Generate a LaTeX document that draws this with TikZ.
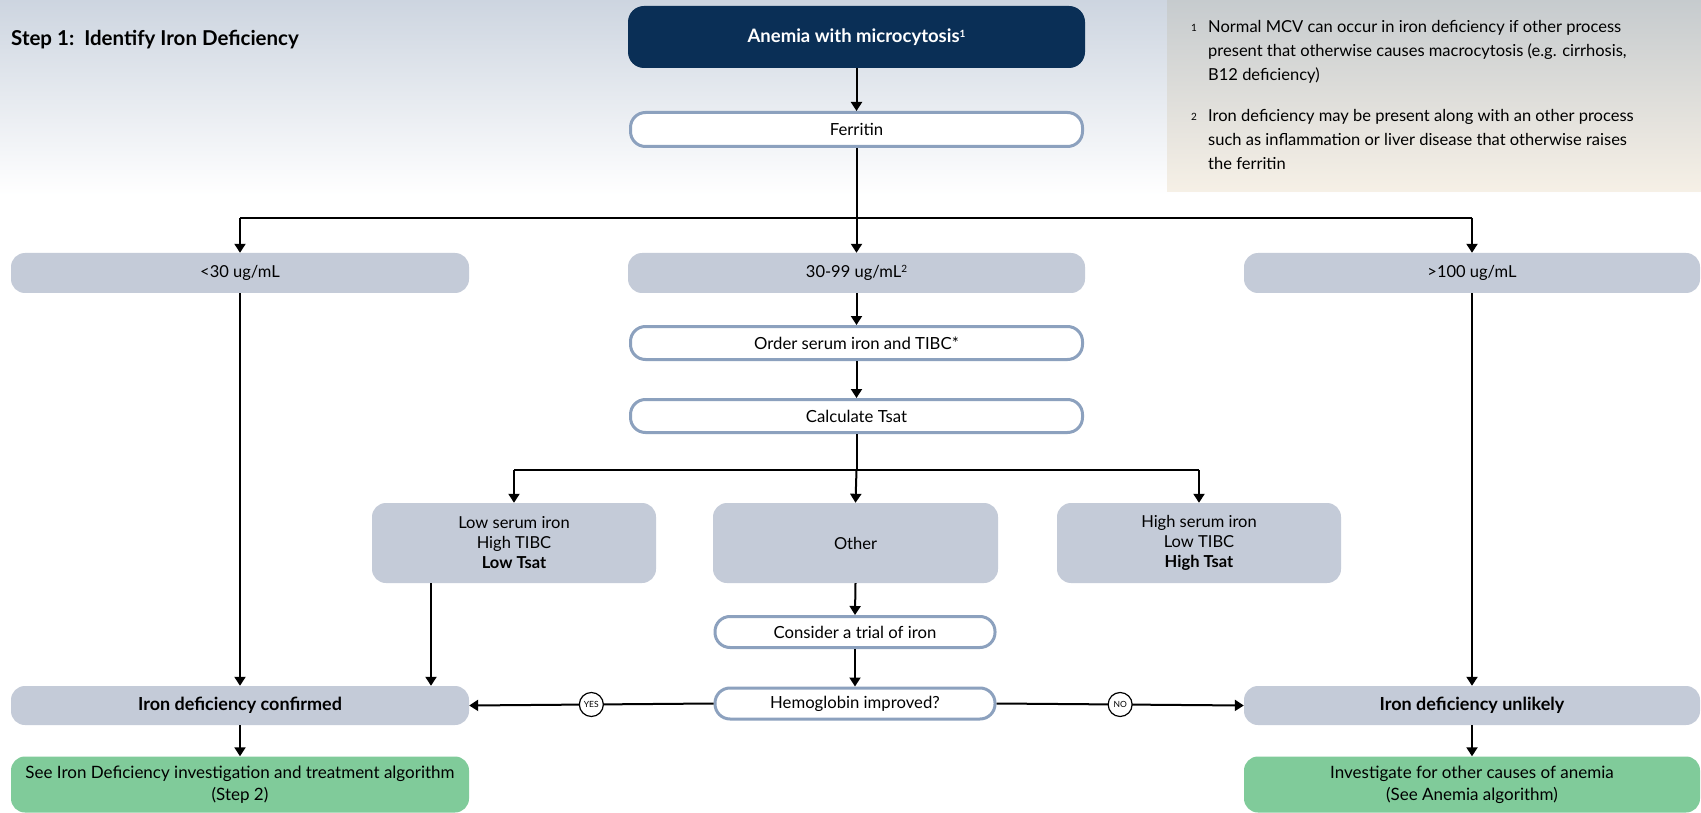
\documentclass[tikz,border=0pt]{standalone}
\usepackage{fontspec}
\setmainfont{Lato}
\usetikzlibrary{arrows.meta}
\definecolor{navy}{RGB}{10,47,86}
\definecolor{boxgray}{RGB}{196,203,216}
\definecolor{wborder}{RGB}{140,161,190}
\definecolor{boxgreen}{RGB}{128,203,154}
\definecolor{bgtop}{RGB}{205,213,224}
\definecolor{fntop}{RGB}{198,203,206}
\definecolor{fnbot}{RGB}{246,240,230}
\newcommand\supnum[1]{\raisebox{0.55ex}{\fontsize{10}{10}\selectfont #1}}
\tikzset{
  gbox/.style={fill=boxgray, rounded corners=14pt, inner sep=0pt, align=center,
    font=\fontsize{16.5}{20}\selectfont},
  bbox/.style={gbox, font=\bfseries\fontsize{18}{20}\selectfont},
  grbox/.style={gbox, fill=boxgreen, font=\fontsize{17}{22}\selectfont},
  wbox/.style={draw=wborder, line width=3pt, fill=white, rounded corners=15pt,
    inner sep=0pt, align=center, font=\fontsize{16.7}{20}\selectfont},
  conn/.style={line width=2pt, black},
  arr/.style={conn, -{Triangle[width=11pt,length=9pt]}},
  yn/.style={circle, draw=black, line width=1.2pt, fill=white, inner sep=0pt,
    minimum size=24pt, font=\fontsize{8.5}{10}\selectfont},
  fnote/.style={anchor=north west, inner sep=0pt, align=left,
    font=\fontsize{16.5}{24}\selectfont},
  fnum/.style={anchor=north east, inner sep=0pt, font=\fontsize{10}{12}\selectfont},
}
\begin{document}
\begin{tikzpicture}[x=1pt,y=-1pt]
\useasboundingbox (0,0) rectangle (1701,813);
\fill[white] (0,0) rectangle (1701,813);
\shade[top color=bgtop, bottom color=white] (0,0) rectangle (1701,195);
% footnote box
\shade[top color=fntop, bottom color=fnbot] (1167,0) rectangle (1701,192);
\node[fnote] (fn1) at (1208,20)
  {Normal MCV can occur in iron deficiency if other process\\present that otherwise causes macrocytosis (e.g. cirrhosis,\\B12 deficiency)};
\node[fnote] (fn2) at (1208,109)
  {Iron deficiency may be present along with an other process\\such as inflammation or liver disease that otherwise raises\\the ferritin};
\node[fnum] (s1) at (1197,24) {1};
\node[fnum] (s2) at (1197,113) {2};
% title
\node[anchor=west, inner sep=0pt, font=\bfseries\fontsize{20.5}{24}\selectfont] (title) at (11,40) {Step 1:\ \ Identify Iron Deficiency};
% nodes
\node[fill=navy, rounded corners=16pt, minimum width=457pt, minimum height=62pt, inner sep=0pt,
  text=white, font=\bfseries\fontsize{18.5}{22}\selectfont] (top) at (856.5,37) {Anemia with microcytosis\supnum{1}};
\node[wbox, minimum width=452pt, minimum height=34pt] (fer) at (856.5,129.5) {Ferritin};
\node[gbox, minimum width=458pt, minimum height=40pt] (r2a) at (240,273) {<30 ug/mL};
\node[gbox, minimum width=457pt, minimum height=40pt] (r2b) at (856.5,273) {30-99 ug/mL\supnum{2}};
\node[gbox, minimum width=456pt, minimum height=40pt] (r2c) at (1472,273) {>100 ug/mL};
\node[wbox, minimum width=452pt, minimum height=33pt] (ord) at (856.5,343) {Order serum iron and TIBC*};
\node[wbox, minimum width=452pt, minimum height=33pt] (tsat) at (856.5,416) {Calculate Tsat};
\node[gbox, minimum width=284pt, minimum height=80pt] (low) at (514,543) {Low serum iron\\High TIBC\\\textbf{Low Tsat}};
\node[gbox, minimum width=285pt, minimum height=80pt] (oth) at (855.5,543) {Other};
\node[gbox, minimum width=284pt, minimum height=80pt] (high) at (1199,543) {High serum iron\\Low TIBC\\\textbf{High Tsat}};
\node[wbox, minimum width=280pt, minimum height=31pt] (trial) at (855,632) {Consider a trial of iron};
\node[wbox, minimum width=280pt, minimum height=31pt] (hemo) at (855,703.5) {Hemoglobin improved?};
\node[bbox, minimum width=458pt, minimum height=39pt] (conf) at (240,705.5) {Iron deficiency confirmed};
\node[bbox, minimum width=456pt, minimum height=39pt] (unl) at (1472,705.5) {Iron deficiency unlikely};
\node[grbox, minimum width=458pt, minimum height=56pt] (gl) at (240,784.5) {See Iron Deficiency investigation and treatment algorithm\\(Step 2)};
\node[grbox, minimum width=456pt, minimum height=56pt] (gr) at (1472,784.5) {Investigate for other causes of anemia\\(See Anemia algorithm)};
% coordinates
\coordinate (j1) at (856.5,218);
\coordinate (j2) at (856.5,470);
\coordinate (lx) at (431,0);
% connectors
\draw[arr] (top.south) -- (fer.north);
\draw[conn] (fer.south) -- (j1);
\draw[arr] (j1) -- (r2b.north);
\draw[conn] (r2a.north |- j1) -- (r2c.north |- j1);
\draw[arr] (r2a.north |- j1) -- (r2a.north);
\draw[arr] (r2c.north |- j1) -- (r2c.north);
\draw[arr] (r2b.south) -- (ord.north);
\draw[arr] (ord.south) -- (tsat.north);
\draw[conn] (tsat.south) -- (j2);
\draw[conn] (low.north |- j2) -- (high.north |- j2);
\draw[arr] (j2) -- (oth.north);
\draw[arr] (low.north |- j2) -- (low.north);
\draw[arr] (high.north |- j2) -- (high.north);
\draw[arr] (oth.south) -- (trial.north);
\draw[arr] (trial.south) -- (hemo.north);
\draw[arr] (r2a.south) -- (conf.north);
\draw[arr] (low.south -| lx) -- (conf.north -| lx);
\draw[arr] (r2c.south) -- (unl.north);
\draw[arr] (hemo.west) -- node[yn] (yes) {YES} (conf.east);
\draw[arr] (hemo.east) -- node[yn] (no) {NO} (unl.west);
\draw[arr] (conf.south) -- (gl.north);
\draw[arr] (unl.south) -- (gr.north);
\end{tikzpicture}
\end{document}
